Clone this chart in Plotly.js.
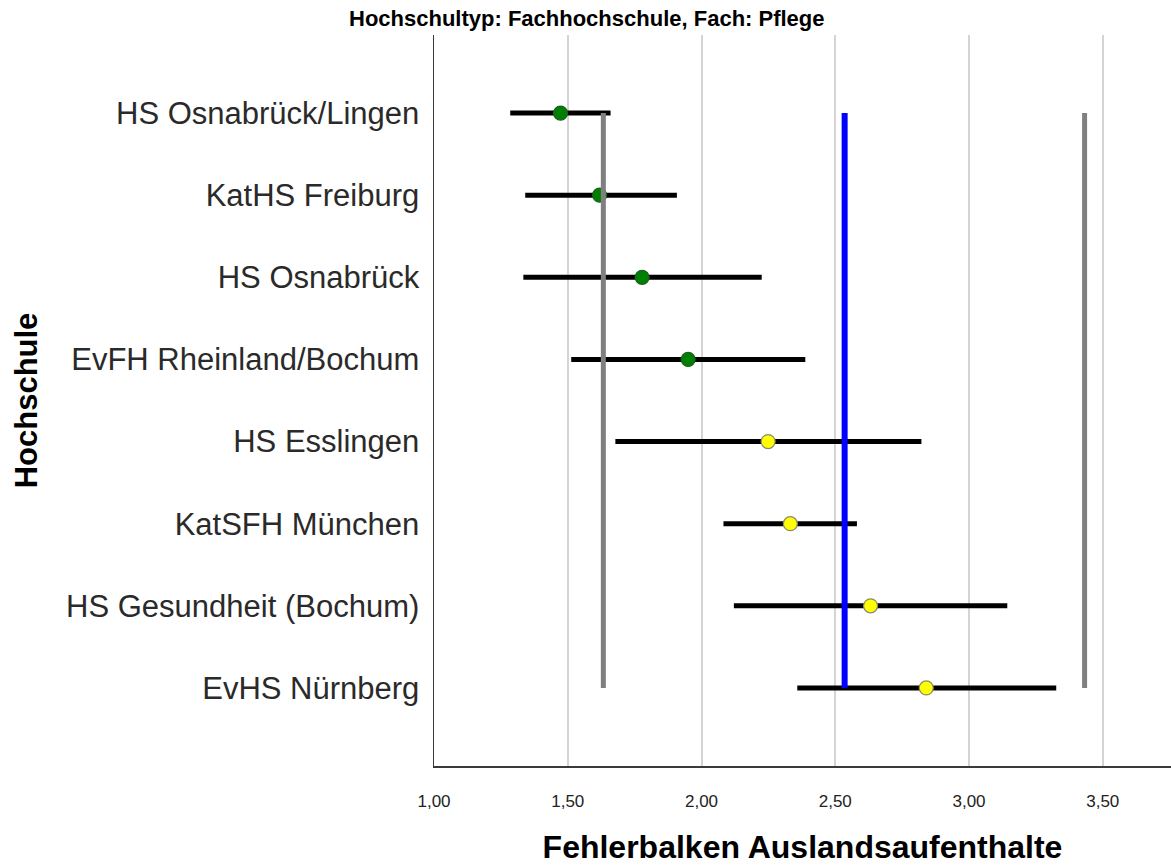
<!DOCTYPE html>
<html>
<head>
<meta charset="utf-8">
<script src="https://cdn.plot.ly/plotly-3.0.1.min.js"></script>
<style>
  html, body { margin: 0; padding: 0; background: #ffffff; }
  #chart { width: 1171px; height: 865px; }
</style>
</head>
<body>
<div id="chart"></div>
<script>
// ---- data ----
const schools = [
  "HS Osnabrück/Lingen",
  "KatHS Freiburg",
  "HS Osnabrück",
  "EvFH Rheinland/Bochum",
  "HS Esslingen",
  "KatSFH München",
  "HS Gesundheit (Bochum)",
  "EvHS Nürnberg"
];
const means = [1.473, 1.619, 1.778, 1.950, 2.249, 2.332, 2.632, 2.840];
const lower = [1.285, 1.341, 1.334, 1.513, 1.678, 2.082, 2.121, 2.358];
const upper = [1.660, 1.908, 2.225, 2.388, 2.822, 2.581, 3.143, 3.326];
const groupIsBelow = [true, true, true, true, false, false, false, false];
const refOverall = 2.535;
const refLow = 1.633;
const refHigh = 3.432;
const xTicks = [1.0, 1.5, 2.0, 2.5, 3.0, 3.5];

const titleText = "Hochschultyp: Fachhochschule, Fach: Pflege";
const xTitle = "Fehlerbalken Auslandsaufenthalte";
const yTitle = "Hochschule";

// ---- build traces ----
const traces = [];
function groupTrace(flag, fill, border) {
  const idx = schools.map((_, i) => i).filter(i => groupIsBelow[i] === flag);
  return {
    type: "scatter", mode: "markers",
    x: idx.map(i => means[i]),
    y: idx.map(i => schools[i]),
    error_x: {
      type: "data", symmetric: false,
      array: idx.map(i => upper[i] - means[i]),
      arrayminus: idx.map(i => means[i] - lower[i]),
      color: "#000000", thickness: 5, width: 0
    },
    marker: { size: 14, color: fill, line: { color: border, width: 1.2 } },
    hoverinfo: "x+y", showlegend: false
  };
}
traces.push(groupTrace(true, "#008000", "#1d5e1d"));
traces.push(groupTrace(false, "#ffff00", "#8a8a6a"));

function refLine(xv, color, w) {
  return {
    type: "scatter", mode: "lines",
    x: [xv, xv], y: [schools[0], schools[schools.length - 1]],
    line: { color: color, width: w }, hoverinfo: "x", showlegend: false
  };
}
traces.push(refLine(refLow, "#808080", 5));
traces.push(refLine(refHigh, "#808080", 5));
traces.push(refLine(refOverall, "#0000ff", 6));

const font = "Liberation Sans, Arial, Helvetica, sans-serif";

const layout = {
  width: 1171, height: 865,
  margin: { l: 434, r: 0, t: 35, b: 99, pad: 0 },
  paper_bgcolor: "#ffffff", plot_bgcolor: "#ffffff",
  separators: ", ",
  font: { family: font, color: "#000000" },
  xaxis: {
    range: [1.0, 3.755],
    tickvals: xTicks,
    tickformat: ".2f",
    showgrid: true, gridcolor: "#d4d4d4", gridwidth: 2,
    zeroline: false,
    showline: true, linecolor: "#3a3a3a", linewidth: 1.5,
    ticks: "", ticklabelstandoff: 19,
    tickfont: { family: font, size: 17, color: "#222222" },
    title: { text: xTitle, standoff: 26, font: { family: font, size: 32, color: "#000000", weight: "bold" } }
  },
  yaxis: {
    type: "category",
    categoryorder: "array", categoryarray: schools,
    range: [7.95, -0.95],
    showgrid: false, zeroline: false,
    showline: true, linecolor: "#3a3a3a", linewidth: 1.5,
    ticks: "", ticklabelstandoff: 7,
    tickfont: { family: font, size: 31, color: "#2a2a2a" },
    title: { text: yTitle, standoff: 19, font: { family: font, size: 31, color: "#000000", weight: "bold" } }
  },
  annotations: [{
    text: "<b>" + titleText + "</b>",
    xref: "paper", yref: "paper",
    x: (587 - 434) / 737, y: 1, yshift: 17,
    xanchor: "center", yanchor: "middle",
    showarrow: false,
    font: { family: font, size: 22, color: "#000000" }
  }]
};

Plotly.newPlot("chart", traces, layout, { staticPlot: true, displayModeBar: false });
</script>
</body>
</html>
